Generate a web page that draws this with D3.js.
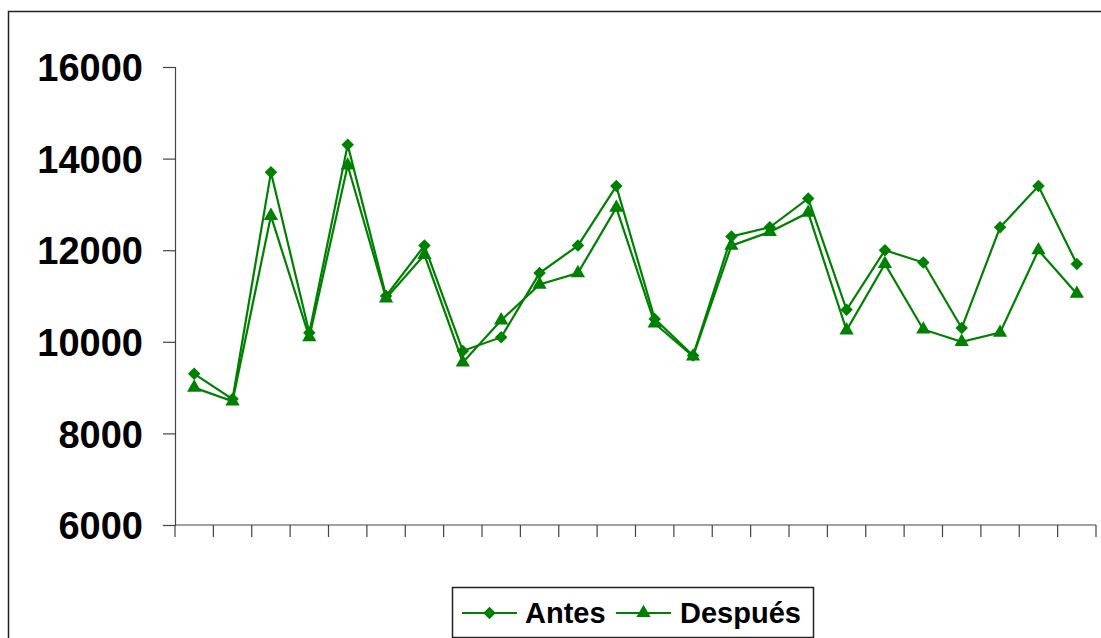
<!DOCTYPE html>
<html>
<head>
<meta charset="utf-8">
<script src="https://cdn.jsdelivr.net/npm/d3@7"></script>
<style>
  html, body { margin: 0; padding: 0; background: #fff; }
  svg { display: block; }
  text { font-family: "Liberation Sans", Arial, sans-serif; font-weight: bold; }
</style>
</head>
<body>
<svg id="chart" width="1101" height="638"></svg>
<script>
// Categories: 24 consecutive observations
const categories = d3.range(1, 25).map(String);

// Series values
const antes = [9300, 8750, 13700, 10200, 14300, 11000, 12100, 9800, 10100, 11500, 12100, 13400,
               10500, 9700, 12300, 12500, 13130, 10700, 12000, 11730, 10300, 12500, 13400, 11700];
const despues = [9000, 8700, 12750, 10100, 13850, 10950, 11900, 9550, 10470, 11250, 11500, 12930,
                 10400, 9680, 12100, 12400, 12820, 10250, 11700, 10270, 10000, 10200, 12000, 11050];

// Axis ticks
const yTicks = [6000, 8000, 10000, 12000, 14000, 16000];
const seriesNames = ["Antes", "Después"];

const green = "#008000";
const svg = d3.select("#chart");

// Outer chart frame (extends past the right and bottom edges)
svg.append("rect")
  .attr("x", 8.5).attr("y", 11.5)
  .attr("width", 1120).attr("height", 660)
  .attr("fill", "none").attr("stroke", "#222").attr("stroke-width", 1.5);

const plot = { left: 175, right: 1096, top: 67, bottom: 525 };

const x = d3.scaleBand().domain(categories).range([plot.left, plot.right]);
const y = d3.scaleLinear().domain([6000, 16000]).range([plot.bottom, plot.top]);

// Y axis
const yAxis = svg.append("g")
  .attr("transform", `translate(${plot.left},0)`)
  .call(d3.axisLeft(y).tickValues(yTicks).tickSize(12).tickPadding(20).tickFormat(d3.format("d")));
yAxis.select(".domain").attr("stroke", "#444").attr("stroke-width", 1.2);
yAxis.selectAll(".tick line").attr("stroke", "#444").attr("stroke-width", 1.2);
yAxis.selectAll(".tick text")
  .attr("font-size", 38).attr("fill", "#000")
  .attr("font-family", "'Liberation Sans', Arial, sans-serif")
  .attr("font-weight", "bold")
  .attr("dy", "0.36em");

// X axis: tick marks on category boundaries, no labels
const xAxis = svg.append("g")
  .attr("transform", `translate(0,${plot.bottom})`);
xAxis.append("line")
  .attr("x1", plot.left).attr("x2", plot.right)
  .attr("stroke", "#444").attr("stroke-width", 1.2);
const boundaries = categories.map(c => x(c)).concat([x(categories[categories.length - 1]) + x.bandwidth()]);
xAxis.selectAll("line.tk").data(boundaries).join("line")
  .attr("class", "tk")
  .attr("x1", d => d).attr("x2", d => d)
  .attr("y1", 0).attr("y2", 12)
  .attr("stroke", "#444").attr("stroke-width", 1.2);

const cx = (d, i) => x(categories[i]) + x.bandwidth() / 2;
const line = d3.line().x(cx).y(d => y(d));

const diamond = d3.symbol().type(d3.symbolSquare).size(78);
const triangle = d3.symbol().type(d3.symbolTriangle).size(88);

function drawSeries(values, sym, rotate) {
  svg.append("path")
    .datum(values)
    .attr("d", line)
    .attr("fill", "none").attr("stroke", green).attr("stroke-width", 2.2);
  svg.append("g").selectAll("path").data(values).join("path")
    .attr("d", sym)
    .attr("transform", (d, i) => `translate(${cx(d, i)},${y(d)})${rotate ? " rotate(45)" : ""}`)
    .attr("fill", green);
}

drawSeries(antes, diamond, true);
drawSeries(despues, triangle, false);

// Legend
const legend = svg.append("g");
legend.append("rect")
  .attr("x", 452.5).attr("y", 587.5).attr("width", 361).attr("height", 50)
  .attr("fill", "#fff").attr("stroke", "#222").attr("stroke-width", 1.5);

const legendItems = [
  { name: seriesNames[0], x0: 462, textX: 525, sym: diamond, rot: true },
  { name: seriesNames[1], x0: 616, textX: 680, sym: triangle, rot: false }
];
const ly = 613;
legendItems.forEach(it => {
  legend.append("line")
    .attr("x1", it.x0).attr("x2", it.x0 + 55).attr("y1", ly).attr("y2", ly)
    .attr("stroke", green).attr("stroke-width", 2.2);
  legend.append("path")
    .attr("d", it.sym)
    .attr("transform", `translate(${it.x0 + 27.5},${ly})${it.rot ? " rotate(45)" : ""}`)
    .attr("fill", green);
  legend.append("text")
    .attr("x", it.textX).attr("y", ly).attr("dy", "0.36em")
    .attr("font-size", 29).attr("fill", "#000")
    .text(it.name);
});
</script>
</body>
</html>
